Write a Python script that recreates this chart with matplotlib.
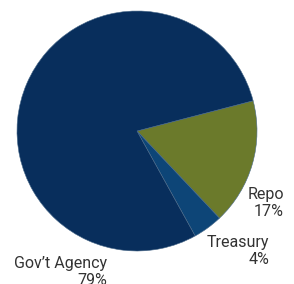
import matplotlib.pyplot as plt

labels = ["Repo", "Treasury", "Gov\u2019t Agency"]
shares = [17, 4, 79]
colors = ["#6b7a2b", "#0d4577", "#082e5c"]

plt.rcParams['font.family'] = ['Roboto', 'DejaVu Sans']

fig = plt.figure(figsize=(2.94, 2.84), dpi=100)
ax = fig.add_axes([0, 0, 1, 1])

ax.pie(shares, colors=colors, startangle=14.6, counterclock=False,
       radius=120, center=(137, 153),
       wedgeprops=dict(linewidth=0.4, edgecolor="#4a6a8a"))

ax.set_xlim(0, 294)
ax.set_ylim(0, 284)
ax.set_aspect("equal")
ax.axis("off")

# label positions (right edge, centre of text block)
label_pos = [(284, 81), (269, 33), (107, 12)]
for name, pct, (x, y) in zip(labels, shares, label_pos):
    ax.text(x, y, f"{name}\n{pct}%", ha="right", va="center", multialignment="right",
            fontsize=11.5, color="#333333", linespacing=1.1)

fig.savefig("out.png", dpi=100)
